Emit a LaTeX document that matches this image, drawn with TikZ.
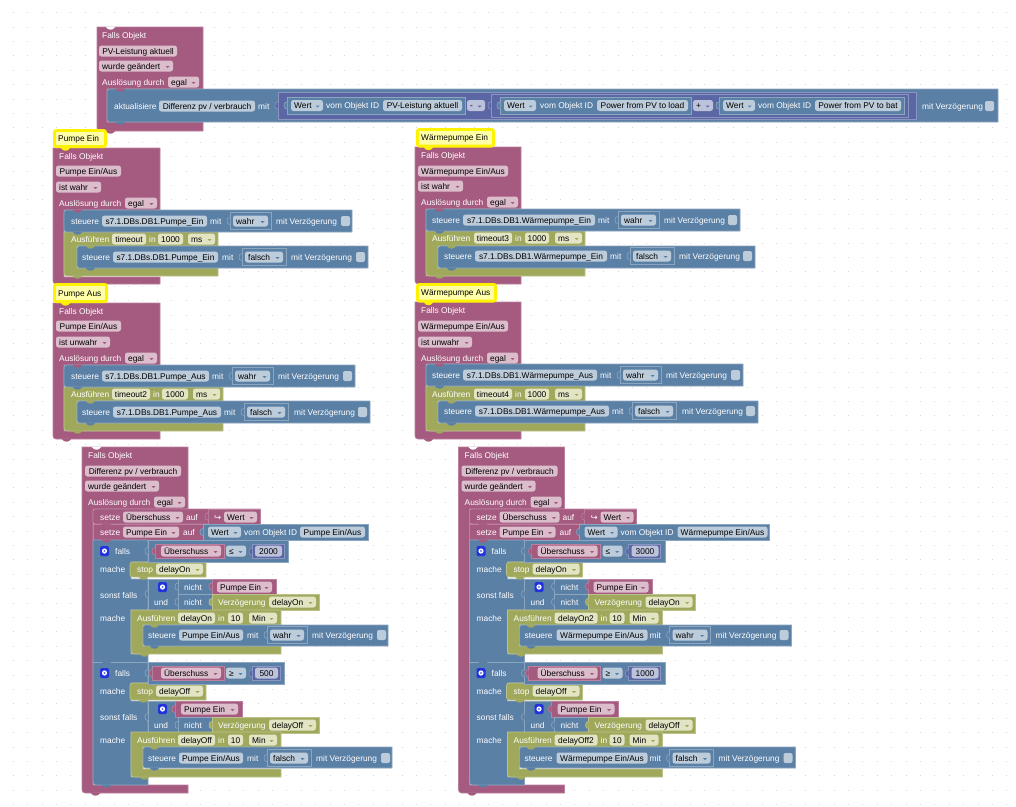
\documentclass[tikz,border=0pt]{standalone}
\usepackage{fontspec}
\setmainfont{Liberation Sans}
\newfontfamily\djv{DejaVu Sans}
\definecolor{bP}{HTML}{A55B80}\definecolor{lP}{HTML}{BC7F9E}\definecolor{fP}{HTML}{DBBDCC}
\definecolor{bB}{HTML}{5B80A5}\definecolor{lB}{HTML}{8CA6C0}\definecolor{fB}{HTML}{BDCCDB}
\definecolor{bO}{HTML}{A0A85C}\definecolor{lO}{HTML}{BCC28A}\definecolor{fO}{HTML}{E2E4C4}
\definecolor{bV}{HTML}{5B67A5}\definecolor{lV}{HTML}{8C95C0}\definecolor{fV}{HTML}{BDC2DB}
\definecolor{dotc}{HTML}{D6D6D6}
\definecolor{cmtin}{HTML}{FFFFA8}
\definecolor{gearc}{HTML}{2233DD}
\newcounter{bn}
\tikzset{
  blk/.style={fill=b#1,draw=l#1,line width=.6pt},
  basetxt/.style={inner sep=0pt,anchor=base west,font=\fontsize{8.35}{10}\selectfont},
  lbl/.style={basetxt,text=white},
  ptx/.style={basetxt,text=black},
  pilltxt/.style={inner sep=0pt,anchor=base,font=\fontsize{8.35}{10}\selectfont,text=black}
}
% text
\newcommand\Blab[3]{\stepcounter{bn}\node[lbl] (t\thebn) at (#1,#2+3) {#3};}
% pill: colour x1 x2 yc text
\newcommand\Bpill[5]{\path[fill=f#1,rounded corners=2.5pt] (#2,#4-5.5) rectangle (#3,#4+5.5);
  \stepcounter{bn}\node[pilltxt] (t\thebn) at ({(#2+#3)/2},#4+3) {#5};}
\newcommand\Bdrop[5]{\path[fill=f#1,rounded corners=2.5pt] (#2,#4-5.5) rectangle (#3,#4+5.5);
  \stepcounter{bn}\node[ptx] (t\thebn) at (#2+3,#4+3) {#5};
  \fill[b#1] (#3-7.5,#4) -- (#3-3.5,#4) -- (#3-5.5,#4+2) -- cycle;}
% statement with rounded left corners
\newcommand\Sta[5]{\path[blk=#1] (#3,#4) [rounded corners=2.5pt] -- (#2,#4) -- (#2,#5) [sharp corners] -- (#3,#5) -- cycle;}
% C block: col x xi xr yt yi yib yb
\newcommand\Cb[8]{\path[blk=#1] (#2,#5) -- (#4,#5) -- (#4,#6) -- (#3,#6) -- (#3,#7) -- (#4,#7) -- (#4,#8) [rounded corners=3pt] -- (#2,#8) [sharp corners] -- (#2,#5) -- cycle;}
% connection tab
\newcommand\Tab[3]{\fill[#1] (#2,#3-.5) -- (#2,#3) .. controls (#2+1.5,#3+3.6) and (#2+7.5,#3+3.6) .. (#2+9,#3) -- (#2+9,#3-.5) -- cycle;}
\newcommand\Vtab[3]{\path[blk=#1] (#2,{#3-3.5}) .. controls (#2-4,{#3-4.5}) and (#2-4,{#3+4.5}) .. (#2,{#3+3.5});}
% value block: col x1 x2 y1 y2
\newcommand\Val[5]{\path[blk=#1] (#2,#4) rectangle (#3,#5); \Vtab{#1}{#2}{(#4+#5)/2}}
% steuere line: yc tx p1 p2 text mitx s1 s2 val
\newcommand\Sline[9]{\Blab{#2}{#1}{steuere}\Bpill{B}{#3}{#4}{#1}{#5}\Blab{#6}{#1}{mit}
  \Val{B}{#7}{#8}{#1-8.5}{#1+8.5}\Bdrop{B}{#7+3}{#8-3}{#1}{#9}}
\newcommand\Mv[3]{\Blab{#1}{#3}{mit Verzögerung}\path[fill=fB,rounded corners=2pt] (#2,#3-5) rectangle (#2+9,#3+5);}
\newcommand\Gear[2]{\path[fill=gearc,rounded corners=1.5pt] (#1,#2-5) rectangle (#1+9,#2+5);
  \fill[white] (#1+4.5,#2) circle (2.6pt); \fill[gearc!70!white] (#1+4.5,#2) circle (1.1pt);}
% comment: x1 x2 y1 y2 text
\newcommand\Comm[5]{\path[fill=cmtin,draw=yellow,line width=2.8pt,rounded corners=2pt] (#1+1.4,#3+1.4) rectangle (#2-1.4,#4-1.4);
  \stepcounter{bn}\node[ptx] (t\thebn) at (#1+5,{(#3+#4)/2+3}) {#5};
  \Tab{yellow}{#1+8}{#4}}

\newcommand\LowerCommon{
  \Cb{P}{82}{93}{188}{447}{509}{785}{793}
  \Tab{white}{92}{447}
  \Blab{88}{455}{Falls Objekt}
  \Bpill{P}{85}{181}{471}{Differenz pv / verbrauch}
  \Bdrop{P}{85}{159}{486}{wurde geändert}
  \Blab{88}{502}{Auslösung durch}
  \Bdrop{P}{154}{185}{502}{egal}
  % setze
  \Sta{P}{93}{260}{509}{524}
  \path[blk=P] (93,524) rectangle (203,540);
  \Blab{100}{517}{setze}\Bdrop{P}{123}{183}{517}{Überschuss}\Blab{186}{517}{auf}
  \Val{P}{208}{260}{509}{524}
  \stepcounter{bn}\node[lbl,font=\djv\fontsize{8.5}{10}\selectfont] (t\thebn) at (214,520) {↪};
  \Bdrop{P}{224}{257}{517}{Wert}
  \Blab{100}{532}{setze}\Bdrop{P}{123}{179}{532}{Pumpe Ein}\Blab{183}{532}{auf}
  % if column
  \path[blk=B] (93,540) -- (148,540) -- (148,562) -- (131,562) -- (131,579) -- (148,579) -- (148,610) -- (131,610) -- (131,654) -- (148,654) -- (148,662) -- (148,683) -- (131,683) -- (131,701) -- (148,701) -- (148,733) -- (131,733) -- (131,777) -- (148,777) -- (148,785) [rounded corners=3pt] -- (93,785) [sharp corners] -- (93,540) -- cycle;
  \draw[lB,line width=.6pt] (93,662) -- (148,662);
  \Gear{100}{551}\Blab{115}{551}{falls}\Blab{100}{569}{mache}
  \Blab{100}{595}{sonst falls}\Blab{100}{618}{mache}
  \Gear{100}{673}\Blab{115}{673}{falls}\Blab{100}{691}{mache}
  \Blab{100}{717}{sonst falls}\Blab{100}{740}{mache}
  % first stop
  \Sta{O}{130}{206}{562}{577}\Blab{137}{569}{stop}\Bdrop{O}{156}{203}{569}{delayOn}
  % first and
  \path[blk=B] (148,579) rectangle (212,610);
  \Vtab{B}{148}{594}
  \Gear{158}{587}\Blab{154}{602}{und}
  \Val{B}{178}{212}{579}{594}\Blab{184}{587}{nicht}
  \Val{B}{178}{212}{594}{610}\Blab{184}{602}{nicht}
  \Val{P}{212}{276}{579}{594}\Bdrop{P}{217}{272}{587}{Pumpe Ein}
  \Val{O}{212}{319}{594}{610}\Blab{218}{602}{Verzögerung}\Bdrop{O}{269}{316}{602}{delayOn}
  % second stop
  \Sta{O}{130}{206}{683}{700}\Blab{137}{691}{stop}\Bdrop{O}{156}{203}{691}{delayOff}
  % second and
  \path[blk=B] (148,701) -- (175,701) -- (175,717) -- (212,717) -- (212,733) -- (148,733) -- cycle;
  \Vtab{B}{148}{717}
  \Gear{158}{709}\Blab{154}{725}{und}
  \Val{P}{175}{242}{701}{717}\Bdrop{P}{181}{238}{709}{Pumpe Ein}
  \Val{B}{178}{212}{717}{733}\Blab{184}{725}{nicht}
  \Val{O}{212}{319}{717}{733}\Blab{218}{725}{Verzögerung}\Bdrop{O}{269}{316}{725}{delayOff}
  % tabs
  \Tab{bP}{102}{524}\Tab{bP}{102}{540}\Tab{bB}{102}{662}\Tab{bB}{102}{785}\Tab{bP}{91}{793}
  \Tab{bO}{139}{577}\Tab{bO}{139}{700}
}
% comparison: yc xr vx2 px2 num sign overx1
\newcommand\Cmp[7]{%
  \path[blk=B] (148,#1-11) rectangle (#2,#1+11);
  \Vtab{B}{148}{#1}
  \Val{P}{#7}{224}{#1-6.5}{#1+7}\Bdrop{P}{161}{221}{#1}{Überschuss}
  \Bdrop{B}{226}{246}{#1}{#6}
  \Val{V}{252}{#3}{#1-6.5}{#1+7.5}\Bpill{V}{255}{#4}{#1}{#5}}
% Ausfuehren C: yt yb xr name inx
\newcommand\Ausf[5]{
  \Cb{O}{131}{143}{#3}{#1}{#1+15}{#2-8}{#2}
  \Blab{137}{#1+8}{Ausführen}\Bpill{O}{178}{#5}{#1+8}{#4}}

\begin{document}
\begin{tikzpicture}[x=1pt,y=-1pt]
\useasboundingbox (0,0) rectangle (1016,806);
\fill[white] (0,0) rectangle (1016,806);
% grid dots
\foreach \i in {0,...,69}{\foreach \j in {0,...,55}{\fill[dotc] (12.8+14.4*\i,12.2+14.4*\j) rectangle +(1,1);}}

% ===== top block =====
\Cb{P}{97}{107}{203}{27}{89}{122}{131}
\Tab{white}{106}{27}
\Blab{102}{35}{Falls Objekt}
\Bpill{P}{99}{177}{51}{PV-Leistung aktuell}
\Bdrop{P}{99}{173}{66}{wurde geändert}
\Blab{102}{82}{Auslösung durch}
\Bdrop{P}{168}{199}{82}{egal}
\Sta{B}{107}{998}{89}{122}
\Blab{114}{106}{aktualisiere}
\Bpill{B}{159}{255}{106}{Differenz pv / verbrauch}
\Blab{258}{106}{mit}
\Val{V}{278}{916}{92}{119}
\Val{B}{287}{465}{97}{114}
\Bdrop{B}{291}{323}{105.5}{Wert}
\Blab{326}{105.5}{vom Objekt ID}
\Bpill{B}{383}{462}{105.5}{PV-Leistung aktuell}
\Bdrop{V}{467}{485}{105.5}{-}
\Val{V}{491}{908}{94}{117}
\Val{B}{500}{691}{97}{114}
\Bdrop{B}{504}{536}{105.5}{Wert}
\Blab{540}{105.5}{vom Objekt ID}
\Bpill{B}{597}{688}{105.5}{Power from PV to load}
\Bdrop{V}{693}{713}{105.5}{+}
\Val{B}{719}{904}{97}{114}
\Bdrop{B}{723}{755}{105.5}{Wert}
\Blab{758}{105.5}{vom Objekt ID}
\Bpill{B}{815}{901}{105.5}{Power from PV to bat}
\Mv{922}{985}{106}
\Tab{bP}{116}{89}\Tab{bB}{116}{122}\Tab{bP}{106}{131}

% ===== Pumpe Ein =====
\Cb{P}{53}{64}{160}{148}{210}{277}{284}
\Comm{53}{107}{129}{148}{Pumpe Ein}
\Blab{59}{156}{Falls Objekt}
\Bpill{P}{56}{121}{171}{Pumpe Ein/Aus}
\Bdrop{P}{56}{101}{187}{ist wahr}
\Blab{59}{203}{Auslösung durch}
\Bdrop{P}{125}{157}{203}{egal}
\Cb{O}{64}{77}{218}{232}{246}{268}{276}
\Sta{B}{64}{352}{210}{232}
\Sline{221}{71}{102}{207}{s7.1.DBs.DB1.Pumpe\_Ein}{210}{230}{271}{wahr}
\Mv{276}{341}{221}
\Blab{71}{239}{Ausführen}\Bpill{O}{112}{146}{239}{timeout}\Blab{149}{239}{in}\Bpill{O}{158}{183}{239}{1000}\Bdrop{O}{188}{215}{239}{ms}
\Sta{B}{77}{368}{246}{268}
\Sline{257}{82}{113}{218}{s7.1.DBs.DB1.Pumpe\_Ein}{222}{242}{286}{falsch}
\Mv{291}{356}{257}
\Tab{bP}{73}{210}\Tab{bB}{73}{232}\Tab{bO}{86}{246}\Tab{bB}{86}{268}\Tab{bO}{73}{276}\Tab{bP}{62}{284}

% ===== Pumpe Aus =====
\Cb{P}{53}{64}{160}{303}{365}{431}{439}
\Comm{53}{108}{283}{303}{Pumpe Aus}
\Blab{59}{311}{Falls Objekt}
\Bpill{P}{56}{121}{326}{Pumpe Ein/Aus}
\Bdrop{P}{56}{110}{342}{ist unwahr}
\Blab{59}{358}{Auslösung durch}
\Bdrop{P}{125}{157}{358}{egal}
\Cb{O}{64}{77}{223}{387}{401}{423}{431}
\Sta{B}{64}{355}{365}{387}
\Sline{376}{71}{102}{209}{s7.1.DBs.DB1.Pumpe\_Aus}{212}{232}{273}{wahr}
\Mv{278}{343}{376}
\Blab{71}{394}{Ausführen}\Bpill{O}{112}{150}{394}{timeout2}\Blab{153}{394}{in}\Bpill{O}{162}{188}{394}{1000}\Bdrop{O}{193}{220}{394}{ms}
\Sta{B}{77}{370}{401}{423}
\Sline{412}{82}{113}{221}{s7.1.DBs.DB1.Pumpe\_Aus}{224}{244}{288}{falsch}
\Mv{294}{358}{412}
\Tab{bP}{73}{365}\Tab{bB}{73}{387}\Tab{bO}{86}{401}\Tab{bB}{86}{423}\Tab{bO}{73}{431}\Tab{bP}{62}{439}

% ===== Waermepumpe Ein =====
\Cb{P}{415}{426}{521}{147}{209}{276}{284}
\Comm{416}{495}{128}{147.5}{Wärmepumpe Ein}
\Blab{421}{155}{Falls Objekt}
\Bpill{P}{418}{508}{171}{Wärmepumpe Ein/Aus}
\Bdrop{P}{418}{463}{186}{ist wahr}
\Blab{421}{202}{Auslösung durch}
\Bdrop{P}{487}{518}{202}{egal}
\Cb{O}{426}{438}{585}{231}{246}{268}{276}
\Sta{B}{426}{740}{209}{231}
\Sline{220}{432}{463}{595}{s7.1.DBs.DB1.Wärmepumpe\_Ein}{598}{618}{659}{wahr}
\Mv{664}{728}{220}
\Blab{432}{238}{Ausführen}\Bpill{O}{474}{512}{238}{timeout3}\Blab{515}{238}{in}\Bpill{O}{525}{549}{238}{1000}\Bdrop{O}{555}{582}{238}{ms}
\Sta{B}{438}{755}{246}{268}
\Sline{256}{444}{475}{607}{s7.1.DBs.DB1.Wärmepumpe\_Ein}{610}{630}{674}{falsch}
\Mv{679}{743}{256}
\Tab{bP}{435}{209}\Tab{bB}{435}{231}\Tab{bO}{447}{246}\Tab{bB}{447}{268}\Tab{bO}{435}{276}\Tab{bP}{424}{284}

% ===== Waermepumpe Aus =====
\Cb{P}{415}{426}{521}{302}{364}{431}{439}
\Comm{416}{497}{283}{302.5}{Wärmepumpe Aus}
\Blab{421}{310}{Falls Objekt}
\Bpill{P}{418}{508}{326}{Wärmepumpe Ein/Aus}
\Bdrop{P}{418}{472}{342}{ist unwahr}
\Blab{421}{358}{Auslösung durch}
\Bdrop{P}{487}{518}{358}{egal}
\Cb{O}{426}{438}{585}{386}{401}{423}{431}
\Sta{B}{426}{743}{364}{386}
\Sline{375}{432}{463}{597}{s7.1.DBs.DB1.Wärmepumpe\_Aus}{600}{620}{661}{wahr}
\Mv{666}{731}{375}
\Blab{432}{394}{Ausführen}\Bpill{O}{474}{512}{394}{timeout4}\Blab{515}{394}{in}\Bpill{O}{525}{549}{394}{1000}\Bdrop{O}{555}{582}{394}{ms}
\Sta{B}{438}{758}{401}{423}
\Sline{411}{444}{475}{609}{s7.1.DBs.DB1.Wärmepumpe\_Aus}{612}{632}{676}{falsch}
\Mv{682}{746}{411}
\Tab{bP}{435}{364}\Tab{bB}{435}{386}\Tab{bO}{447}{401}\Tab{bB}{447}{423}\Tab{bO}{435}{431}\Tab{bP}{424}{439}

% ===== lower left =====
\LowerCommon
\Val{B}{203}{368}{524}{540}
\Bdrop{B}{208}{241}{532}{Wert}\Blab{244}{532}{vom Objekt ID}\Bpill{B}{300}{365}{532}{Pumpe Ein/Aus}
\Cmp{551}{288}{284}{282}{2000}{≤}{155}
\Cmp{673}{284}{280}{278}{500}{≥}{152}
\Ausf{610}{654}{281}{delayOn}{215}
\Blab{218}{618}{in}\Bpill{O}{228}{243}{618}{10}\Bdrop{O}{249}{277}{618}{Min}
\Sta{B}{143}{388}{625}{646}
\Sline{635}{148}{179}{243}{Pumpe Ein/Aus}{247}{267}{307}{wahr}
\Mv{312}{377}{635}
\Ausf{732}{777}{281}{delayOff}{215}
\Blab{218}{740}{in}\Bpill{O}{228}{243}{740}{10}\Bdrop{O}{249}{277}{740}{Min}
\Sta{B}{143}{392}{747}{768}
\Sline{758}{148}{179}{243}{Pumpe Ein/Aus}{247}{267}{311}{falsch}
\Mv{316}{381}{758}
\Tab{bO}{140}{654}\Tab{bO}{140}{777}\Tab{bB}{150}{646}\Tab{bB}{150}{768}\Tab{bO}{150}{625}\Tab{bO}{150}{747}

% ===== lower right =====
\begin{scope}[shift={(376.5,0)}]
\LowerCommon
\Val{B}{203}{393}{524}{540}
\Bdrop{B}{208}{241}{532}{Wert}\Blab{244}{532}{vom Objekt ID}\Bpill{B}{301}{391}{532}{Wärmepumpe Ein/Aus}
\Cmp{551}{289}{284}{282}{3000}{≤}{155}
\Cmp{673}{289}{284}{282}{1000}{≥}{152}
\Ausf{610}{654}{286}{delayOn2}{221}
\Blab{224}{618}{in}\Bpill{O}{233}{248}{618}{10}\Bdrop{O}{253}{282}{618}{Min}
\Sta{B}{143}{415}{625}{646}
\Sline{635}{148}{180}{271}{Wärmepumpe Ein/Aus}{273}{293}{334}{wahr}
\Mv{339}{403}{635}
\Ausf{732}{777}{286}{delayOff2}{221}
\Blab{224}{740}{in}\Bpill{O}{233}{248}{740}{10}\Bdrop{O}{253}{282}{740}{Min}
\Sta{B}{143}{419}{747}{768}
\Sline{758}{148}{180}{271}{Wärmepumpe Ein/Aus}{273}{293}{337}{falsch}
\Mv{342}{407}{758}
\Tab{bO}{140}{654}\Tab{bO}{140}{777}\Tab{bB}{150}{646}\Tab{bB}{150}{768}\Tab{bO}{150}{625}\Tab{bO}{150}{747}
\end{scope}
\end{tikzpicture}
\end{document}
